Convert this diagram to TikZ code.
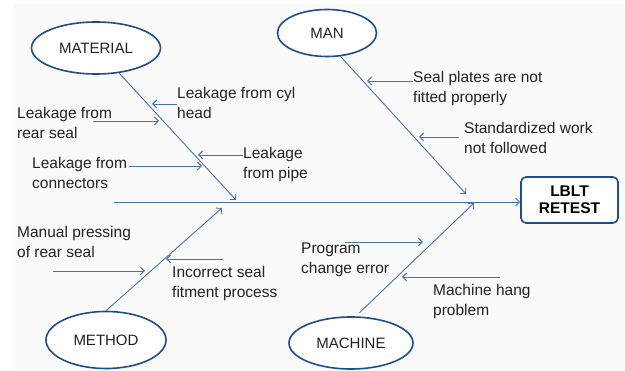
\documentclass[tikz,border=0pt]{standalone}
\usepackage{fontspec}
\setmainfont{Liberation Sans}
\usetikzlibrary{arrows.meta,positioning,shapes.geometric}
\definecolor{Fline}{RGB}{68,114,180}
\definecolor{Fedge}{RGB}{30,78,138}
\definecolor{Ftext}{RGB}{35,35,35}
\definecolor{Fback}{RGB}{250,250,250}
\tikzset{
  bone/.style={-{Straight Barb[length=4pt,width=8pt]}, line width=0.9pt, draw=Fline},
  cause/.style={-{Straight Barb[length=4pt,width=8pt]}, line width=0.9pt, draw=Fline},
  category/.style={ellipse, draw=Fedge, line width=1.6pt, fill=white, inner sep=0pt, text=Ftext, font=\fontsize{15}{18}\selectfont},
  effectbox/.style={rounded corners=5pt, draw=Fedge, line width=1.6pt, fill=white, align=center, inner sep=0pt, minimum width=97pt, minimum height=46pt, font=\bfseries\fontsize{15.5}{17}\selectfont},
  causetext/.style={anchor=north west, align=left, inner sep=0pt, text=Ftext, font=\fontsize{15.5}{20}\selectfont}
}
\begin{document}
\begin{tikzpicture}[x=1pt,y=-1pt]
  \useasboundingbox (0,0) rectangle (625,371);
  \fill[Fback] (13,4) rectangle (625,371);

  \node[category, minimum width=129pt, minimum height=52pt] (material) at (96,48) {MATERIAL};
  \node[category, minimum width=99pt, minimum height=47pt] (man) at (327,33) {MAN};
  \node[category, minimum width=120pt, minimum height=57pt] (method) at (106,340) {METHOD};
  \node[category, minimum width=124pt, minimum height=52pt] (machine) at (351,343) {MACHINE};
  \node[effectbox] (effect) at (569.5,200) {LBLT\\RETEST};

  \coordinate (tail) at (114,202);
  \coordinate (j1) at (236,200);
  \coordinate (j2) at (466,194);
  \coordinate (j3) at (222,208);
  \coordinate (j4) at (474,203);

  \draw[bone] (tail) -- (tail -| effect.west);
  \draw[bone] (material) -- (j1);
  \draw[bone] (man.-60) -- (j2);
  \draw[bone] (method.north) -- (j3);
  \draw[bone, shorten <=5pt] (machine.80) -- (j4);

  \node[causetext] (cylhead) at (177,87) {Leakage from cyl\\head};
  \node[causetext] (rearseal) at (17,107) {Leakage from\\rear seal};
  \node[causetext] (connect) at (32,157) {Leakage from\\connectors};
  \node[causetext] (pipe) at (243,147) {Leakage\\from pipe};
  \node[causetext] (plates) at (413,71) {Seal plates are not\\fitted properly};
  \node[causetext] (stdwork) at (464,122) {Standardized work\\not followed};
  \node[causetext] (pressing) at (17,226) {Manual pressing\\of rear seal};
  \node[causetext] (fitment) at (172,266) {Incorrect seal\\fitment process};
  \node[causetext] (program) at (301,243) {Program\\change error};
  \node[causetext] (hang) at (433,284) {Machine hang\\problem};

  \coordinate (c1a) at (177,104); \coordinate (c1b) at (152,104);
  \coordinate (c2a) at (93,121);  \coordinate (c2b) at (159,121);
  \coordinate (c3a) at (129,166); \coordinate (c3b) at (202,166);
  \coordinate (c4a) at (243,155); \coordinate (c4b) at (198,155);
  \coordinate (c5a) at (413,81);  \coordinate (c5b) at (367,81);
  \coordinate (c6a) at (459,137); \coordinate (c6b) at (419,137);
  \coordinate (c7a) at (53,271);  \coordinate (c7b) at (145,271);
  \coordinate (c8a) at (223,259); \coordinate (c8b) at (166,259);
  \coordinate (c9a) at (345,242); \coordinate (c9b) at (423,242);
  \coordinate (c10a) at (500,277); \coordinate (c10b) at (402,277);

  \draw[cause] (c1a) -- (c1b);
  \draw[cause] (c2a) -- (c2b);
  \draw[cause] (c3a) -- (c3b);
  \draw[cause] (c4a) -- (c4b);
  \draw[cause] (c5a) -- (c5b);
  \draw[cause] (c6a) -- (c6b);
  \draw[cause] (c7a) -- (c7b);
  \draw[cause] (c8a) -- (c8b);
  \draw[cause] (c9a) -- (c9b);
  \draw[cause] (c10a) -- (c10b);
\end{tikzpicture}
\end{document}
